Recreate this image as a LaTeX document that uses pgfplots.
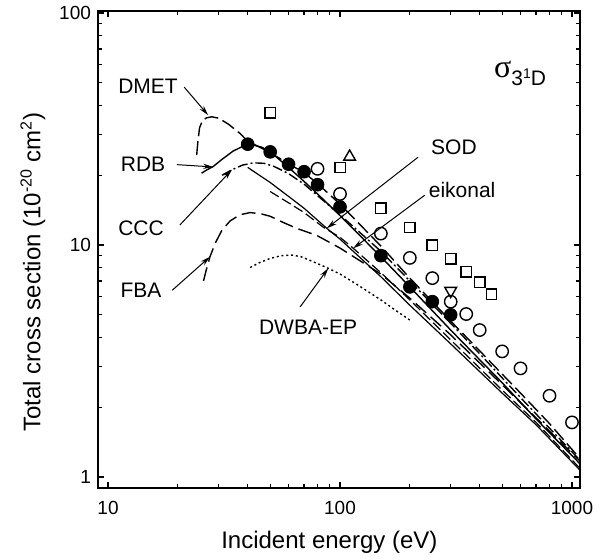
\documentclass[border=0pt]{standalone}
\usepackage{fontspec}
\setmainfont{Liberation Sans}
\newfontfamily\greekserif{Liberation Serif}
\usepackage{pgfplots}
\pgfplotsset{compat=1.18}
\usetikzlibrary{arrows.meta}
\begin{document}
\begin{tikzpicture}
\useasboundingbox (-49pt,-36pt) rectangle (257pt,244pt);
\begin{axis}[
  at={(0,0)}, anchor=south west,
  scale only axis, width=241pt, height=238.5pt,
  xmode=log, ymode=log,
  xmin=9.05, xmax=1083, ymin=0.897, ymax=102,
  xtick={10,100,1000}, xticklabels={10,100,1000},
  ytick={1,10,100}, yticklabels={1,10,100},
  minor xtick={20,30,40,50,60,70,80,90,200,300,400,500,600,700,800,900},
  minor ytick={2,3,4,5,6,7,8,9,20,30,40,50,60,70,80,90},
  tick align=inside, major tick length=3.2pt, minor tick length=2pt,
  every tick/.style={black, line width=0.6pt},
  axis line style={line width=0.9pt},
  /pgf/number format/assume math mode=true,
  ticklabel style={font=\fontsize{9.5}{11}\selectfont},
  xticklabel style={yshift=-3pt},
  xlabel={Incident energy (eV)},
  ylabel={Total cross section (10\textsuperscript{-20} cm\textsuperscript{2})},
  label style={font=\fontsize{12}{14}\selectfont},
  xlabel style={at={(axis description cs:0.48,-0.113)}, anchor=center},
  ylabel style={at={(axis description cs:-0.135,0.453)}, anchor=center},
]
% DMET
\addplot[black, line width=0.7pt, dash pattern=on 7pt off 2.5pt] coordinates {
(24.1,24.4) (24.4,28) (24.8,32) (25.5,34.3) (26.5,35.3) (28,35.7) (30,35.2) (33,33.2) (37,30.3) (40,28.0) (45,26.4) (50,25.0) (60,22.4) (70,20.5) (80,18.4) (100,15.0) (150,9.9) (200,7.2) (300,4.7) (400,3.5) (600,2.3) (800,1.7) (1083,1.2)};
% RDB
\addplot[black, line width=0.7pt] coordinates {
(25.3,20.4) (26.5,21.0) (28.4,21.8) (31,23.4) (34.6,25.4) (38,26.6) (42,27.0) (46,26.4) (50,25.2) (60,21.6) (70,18.8) (80,16.6) (100,13.4) (150,8.9) (200,6.6) (300,4.3) (500,2.55) (700,1.78) (1083,1.14)};
% CCC
\addplot[black, line width=0.7pt, dash pattern=on 5pt off 1.5pt on 1pt off 1.5pt] coordinates {
(31,20.0) (34.2,21.1) (38,22.1) (42.3,22.6) (47,22.5) (52,21.8) (60,20.3) (70,18.3) (85,15.5) (100,13.5) (150,9.4) (200,7.0) (300,4.6) (400,3.4) (600,2.2) (1083,1.18)};
% SOD
\addplot[black, line width=0.6pt] coordinates {
(40,21.6) (50,18.6) (60,16.2) (70,14.4) (87.7,11.8) (100,10.6) (150,7.3) (200,5.5) (300,3.75) (500,2.3) (700,1.68) (1083,1.07)};
% eikonal
\addplot[black, line width=0.6pt, dash pattern=on 5pt off 2pt] coordinates {
(50,17.0) (60,15.2) (70,13.8) (85,11.9) (100,10.8) (114,9.68) (150,7.6) (200,5.8) (300,3.9) (500,2.37) (700,1.72) (1083,1.09)};
% FBA
\addplot[black, line width=0.7pt, dash pattern=on 7pt off 3pt] coordinates {
(25.8,7.0) (26.5,7.8) (27.5,8.9) (29,10.2) (31,11.6) (33.6,12.7) (37,13.5) (41,13.8) (46,13.6) (50,13.3) (57,12.5) (65,11.8) (79.4,11.0) (100,9.7) (150,7.5) (200,5.9) (300,4.1) (500,2.5) (700,1.8) (1083,1.17)};
% DWBA-EP
\addplot[black, line width=0.7pt, dash pattern=on 1pt off 1.4pt] coordinates {
(41,8.0) (45,8.4) (50,8.75) (56,9.0) (62,9.05) (68,8.9) (76,8.5) (89,7.94) (100,7.5) (120,6.7) (150,5.8) (175,5.2) (200,4.75)};
% data
\addplot[only marks, mark=*, mark size=3.2pt, black] coordinates {
(40,27.2) (50,25.2) (60,22.3) (70,20.7) (80,18.2) (100,14.6) (150,9.0) (200,6.6) (250,5.7) (300,5.0)};
\addplot[only marks, mark=o, mark size=3.1pt, black, mark options={line width=0.7pt, fill=white}] coordinates {
(80,21.3) (100,16.6) (150,11.2) (200,8.8) (250,7.2) (300,5.7) (350,5.04) (400,4.3) (500,3.48) (600,2.94) (800,2.24) (1000,1.72)};
\addplot[only marks, mark=square, mark size=2.6pt, black, mark options={line width=0.7pt, fill=white}] coordinates {
(50,37.2) (100,21.6) (150,14.4) (200,11.9) (250,10.0) (300,8.73) (350,7.67) (400,6.91) (450,6.15)};
\addplot[only marks, mark=triangle, mark size=3.4pt, black, mark options={line width=0.7pt, fill=white}] coordinates {(110,24.0)};
\addplot[only marks, mark=triangle, mark size=3.4pt, black, mark options={line width=0.7pt, fill=white, rotate=180}] coordinates {(300,6.35)};
% annotations
\tikzset{lab/.style={font=\fontsize{10.5}{12}\selectfont, inner sep=0pt}, arr/.style={-{Stealth[length=5pt,width=2.6pt]}, line width=0.5pt, black}}
\node[lab] at (axis cs:14.87,48.5) {DMET};
\draw[arr] (axis cs:21.3,47.9) -- (axis cs:27.0,36.3);
\node[lab] at (axis cs:14.15,22.2) {RDB};
\draw[arr] (axis cs:19.8,22.2) -- (axis cs:28.4,21.7);
\node[lab] at (axis cs:13.87,11.85) {CCC};
\draw[arr] (axis cs:20.4,12.2) -- (axis cs:34.2,21.1);
\node[lab] at (axis cs:13.87,6.38) {FBA};
\draw[arr] (axis cs:18.9,6.38) -- (axis cs:27.5,8.9);
\node[lab] at (axis cs:310,26.5) {SOD};
\draw[arr] (axis cs:217,23.9) -- (axis cs:87.7,11.8);
\node[lab] at (axis cs:336,17.3) {eikonal};
\draw[arr] (axis cs:232,16.4) -- (axis cs:114,9.68);
\node[lab] at (axis cs:72.8,4.43) {DWBA-EP};
\draw[arr] (axis cs:67.3,5.41) -- (axis cs:89,7.94);
\node[inner sep=0pt] at (axis cs:597,55) {{\greekserif\fontsize{16}{17}\selectfont σ}\raisebox{-4pt}{\fontsize{10.5}{12}\selectfont 3\raisebox{3.5pt}{\fontsize{7}{8}\selectfont 1}D}};
\end{axis}
\end{tikzpicture}
\end{document}
